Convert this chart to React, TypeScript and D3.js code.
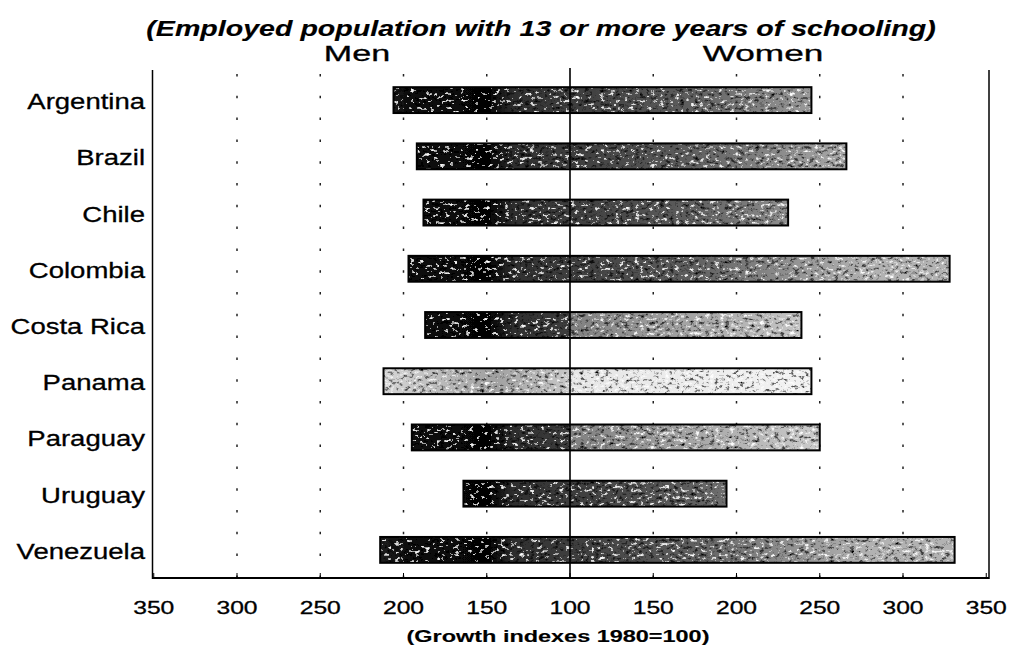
import React from "react";
import * as d3 from "d3";

const countries = [
  "Argentina",
  "Brazil",
  "Chile",
  "Colombia",
  "Costa Rica",
  "Panama",
  "Paraguay",
  "Uruguay",
  "Venezuela",
];
const menIndex = [206, 192, 188, 197, 187, 212, 195, 164, 214];
const womenIndex = [245, 266, 231, 328, 239, 245, 250, 194, 331];

const menTicks = [350, 300, 250, 200, 150, 100];
const womenTicks = [150, 200, 250, 300, 350];
const gridValues = [150, 200, 250, 300];

const subtitle = "(Employed population with 13 or more years of schooling)";
const axisTitle = "(Growth indexes 1980=100)";

// shading of the scanned bars (style only)
const menTone: Record<string, string> = { Panama: "menLight" };
const womenTone: Record<string, string> = {
  Panama: "womenLightest",
  "Costa Rica": "womenLight",
  Paraguay: "womenLight",
};

const W = 1015;
const H = 649;
const center = 570;
const unit = 1.665;
const plotTop = 72;
const plotBottom = 578;
const boxLeft = 152.5;
const boxRight = 989;

const FONT = "'Liberation Sans', Arial, sans-serif";

// old scanned chart: the lettering is stretched sideways
function Wide({ x, y, sx, anchor = "middle", size, bold, italic, children }: any) {
  return (
    <text
      transform={`translate(${x},${y}) scale(${sx},1)`}
      textAnchor={anchor}
      fontSize={size}
      fontWeight={bold ? "bold" : "normal"}
      fontStyle={italic ? "italic" : "normal"}
      stroke="#000"
      strokeWidth={bold ? 0.15 : 0.3}
    >
      {children}
    </text>
  );
}

export default function App() {
  const xMen = d3
    .scaleLinear()
    .domain([100, 350])
    .range([center, center - 250 * unit]);
  const xWomen = d3
    .scaleLinear()
    .domain([100, 350])
    .range([center, center + 250 * unit]);
  const y = d3
    .scaleBand<string>()
    .domain(countries)
    .range([plotTop, plotBottom])
    .paddingInner(0.54)
    .paddingOuter(0.27);

  const bh = y.bandwidth();

  const gridXs = [
    ...gridValues.map((v) => xMen(v)),
    ...gridValues.map((v) => xWomen(v)),
  ];

  return (
    <svg
      width={W}
      height={H}
      style={{ position: "absolute", left: 0, top: 0, background: "#fff" }}
      fontFamily={FONT}
    >
      <defs>
        <linearGradient id="menDark" gradientUnits="userSpaceOnUse" x1={380} x2={center} y1={0} y2={0}>
          <stop offset="0" stopColor="#1e1e1e" />
          <stop offset="0.2" stopColor="#0a0a0a" />
          <stop offset="0.58" stopColor="#050505" />
          <stop offset="0.7" stopColor="#2e2e2e" />
          <stop offset="1" stopColor="#3e3e3e" />
        </linearGradient>
        <linearGradient id="menLight" gradientUnits="userSpaceOnUse" x1={380} x2={center} y1={0} y2={0}>
          <stop offset="0" stopColor="#d8d8d8" />
          <stop offset="0.6" stopColor="#a0a0a0" />
          <stop offset="1" stopColor="#c8c8c8" />
        </linearGradient>
        <linearGradient id="womenDark" gradientUnits="userSpaceOnUse" x1={center} x2={870} y1={0} y2={0}>
          <stop offset="0" stopColor="#3c3c3c" />
          <stop offset="0.4" stopColor="#5e5e5e" />
          <stop offset="0.8" stopColor="#9a9a9a" />
          <stop offset="1" stopColor="#b2b2b2" />
        </linearGradient>
        <linearGradient id="womenLight" gradientUnits="userSpaceOnUse" x1={center} x2={850} y1={0} y2={0}>
          <stop offset="0" stopColor="#808080" />
          <stop offset="0.5" stopColor="#ababab" />
          <stop offset="1" stopColor="#d4d4d4" />
        </linearGradient>
        <linearGradient id="womenLightest" gradientUnits="userSpaceOnUse" x1={center} x2={850} y1={0} y2={0}>
          <stop offset="0" stopColor="#e6e6e6" />
          <stop offset="1" stopColor="#f4f4f4" />
        </linearGradient>
        <filter id="grain" x="0" y="0" width="1" height="1">
          <feTurbulence type="fractalNoise" baseFrequency="0.2 0.28" numOctaves="3" seed="11" result="noise" />
          <feColorMatrix
            in="noise"
            type="matrix"
            values="0 0 0 0 1  0 0 0 0 1  0 0 0 0 1  1 0 0 0 0"
            result="whiteA"
          />
          <feComponentTransfer in="whiteA" result="whiteSpots">
            <feFuncA type="discrete" tableValues="0 0 0 0 0 0 0 0 0 0.35 0.7 0.9 1 1" />
          </feComponentTransfer>
          <feColorMatrix
            in="noise"
            type="matrix"
            values="0 0 0 0 0  0 0 0 0 0  0 0 0 0 0  -1 0 0 0 1"
            result="blackA"
          />
          <feComponentTransfer in="blackA" result="blackSpots">
            <feFuncA type="discrete" tableValues="0 0 0 0 0 0 0 0.35 0.75 0.9 1 1" />
          </feComponentTransfer>
          <feMerge result="merged">
            <feMergeNode in="SourceGraphic" />
            <feMergeNode in="whiteSpots" />
            <feMergeNode in="blackSpots" />
          </feMerge>
          <feComposite in="merged" in2="SourceGraphic" operator="in" />
        </filter>
      </defs>

      {/* titles */}
      <Wide x={541} y={36} sx={1.3} size={22} bold italic>
        {subtitle}
      </Wide>
      <Wide x={357} y={61} sx={1.55} size={22}>
        Men
      </Wide>
      <Wide x={763} y={61} sx={1.6} size={22}>
        Women
      </Wide>

      {/* dotted grid */}
      {gridXs.map((gx, i) => (
        <line
          key={"g" + i}
          x1={gx}
          x2={gx}
          y1={74}
          y2={plotBottom}
          stroke="#222"
          strokeWidth={1.5}
          strokeDasharray="2.5 19.3"
        />
      ))}

      {/* bars */}
      {countries.map((c, i) => {
        const yy = y(c) as number;
        const mx = xMen(menIndex[i]);
        const wx = xWomen(womenIndex[i]);
        return (
          <g key={c}>
            <rect
              x={mx}
              y={yy}
              width={center - mx}
              height={bh}
              fill={`url(#${menTone[c] || "menDark"})`}
              filter="url(#grain)"
            />
            <rect
              x={center}
              y={yy}
              width={wx - center}
              height={bh}
              fill={`url(#${womenTone[c] || "womenDark"})`}
              filter="url(#grain)"
            />
            <rect
              x={mx}
              y={yy}
              width={wx - mx}
              height={bh}
              fill="none"
              stroke="#000"
              strokeWidth={2}
            />
          </g>
        );
      })}

      {/* frame */}
      <line x1={boxLeft} x2={boxLeft} y1={70} y2={plotBottom + 1} stroke="#000" strokeWidth={1.5} />
      <line x1={boxRight} x2={boxRight} y1={70} y2={plotBottom + 1} stroke="#000" strokeWidth={1.5} />
      <line x1={boxLeft} x2={boxRight} y1={plotBottom} y2={plotBottom} stroke="#000" strokeWidth={1.8} />
      <line x1={center} x2={center} y1={68} y2={plotBottom} stroke="#000" strokeWidth={1.6} />

      {/* category labels */}
      {countries.map((c) => (
        <Wide key={"l" + c} x={145} y={(y(c) as number) + bh / 2 + 9} sx={1.25} size={22} anchor="end">
          {c}
        </Wide>
      ))}

      {/* bottom axis */}
      {menTicks.map((t) => (
        <g key={"m" + t}>
          <line x1={xMen(t)} x2={xMen(t)} y1={plotBottom} y2={plotBottom - 5} stroke="#000" strokeWidth={1} />
          <Wide x={xMen(t)} y={613.5} sx={1.3} size={19}>
            {t}
          </Wide>
        </g>
      ))}
      {womenTicks.map((t) => (
        <g key={"w" + t}>
          <line x1={xWomen(t)} x2={xWomen(t)} y1={plotBottom} y2={plotBottom - 5} stroke="#000" strokeWidth={1} />
          <Wide x={xWomen(t)} y={613.5} sx={1.3} size={19}>
            {t}
          </Wide>
        </g>
      ))}
      <Wide x={558} y={642} sx={1.38} size={17} bold>
        {axisTitle}
      </Wide>
    </svg>
  );
}
